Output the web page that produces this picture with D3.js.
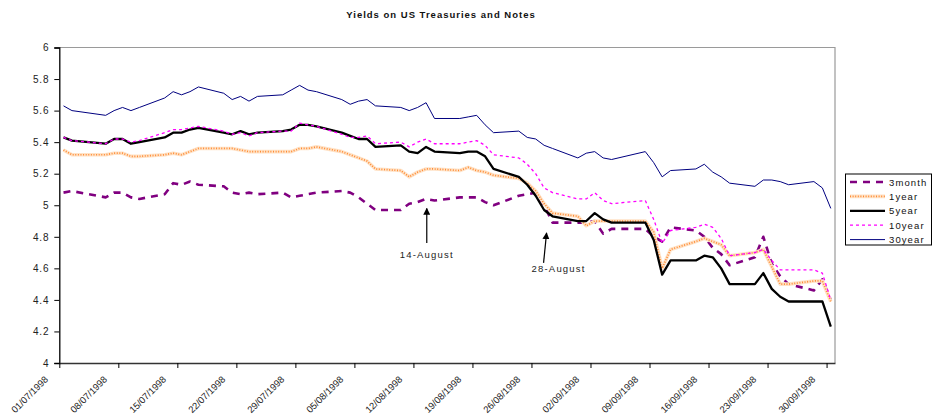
<!DOCTYPE html>
<html>
<head>
<meta charset="utf-8">
<script src="https://cdn.jsdelivr.net/npm/d3@7"></script>
<style>
  body { margin: 0; background: #fff; }
  svg { display: block; font-family: "Liberation Sans", Arial, sans-serif; }
</style>
</head>
<body>
<svg id="chart" width="934" height="416"></svg>
<script>
// trading days, jul-sep 1998
const dates = [
  "01/07/1998","02/07/1998","06/07/1998","07/07/1998","08/07/1998","09/07/1998","10/07/1998",
  "13/07/1998","14/07/1998","15/07/1998","16/07/1998","17/07/1998","20/07/1998","21/07/1998",
  "22/07/1998","23/07/1998","24/07/1998","27/07/1998","28/07/1998","29/07/1998","30/07/1998","31/07/1998",
  "03/08/1998","04/08/1998","05/08/1998","06/08/1998","07/08/1998","10/08/1998","11/08/1998",
  "12/08/1998","13/08/1998","14/08/1998","17/08/1998","18/08/1998","19/08/1998","20/08/1998",
  "21/08/1998","24/08/1998","25/08/1998","26/08/1998","27/08/1998","28/08/1998","31/08/1998",
  "01/09/1998","02/09/1998","03/09/1998","04/09/1998","08/09/1998","09/09/1998","10/09/1998",
  "11/09/1998","14/09/1998","15/09/1998","16/09/1998","17/09/1998","18/09/1998","21/09/1998",
  "22/09/1998","23/09/1998","24/09/1998","25/09/1998","28/09/1998","29/09/1998","30/09/1998"
];

const month3 = [
  5.08,5.09,5.05,5.08,5.08,5.05,5.04,5.07,5.14,5.13,5.15,5.13,5.12,5.08,5.07,5.08,5.07,5.08,5.05,5.06,5.07,5.08,
  5.09,5.08,5.05,5.01,4.97,4.97,5.01,5.02,5.04,5.03,5.05,5.05,5.05,5.02,5.00,5.06,5.07,5.08,5.00,4.89,4.89,
  4.89,4.90,4.82,4.85,4.85,4.80,4.77,4.86,4.84,4.80,4.73,4.69,4.62,4.67,4.80,4.63,4.55,4.50,4.46,4.53,4.40
];
const year1 = [
  5.35,5.32,5.32,5.33,5.33,5.31,5.31,5.32,5.33,5.32,5.34,5.36,5.36,5.36,5.35,5.34,5.34,5.34,5.34,5.36,5.36,5.37,
  5.34,5.32,5.30,5.28,5.23,5.22,5.18,5.21,5.23,5.23,5.22,5.24,5.22,5.21,5.19,5.17,5.14,5.09,5.01,4.95,4.93,
  4.87,4.90,4.90,4.90,4.90,4.83,4.60,4.72,4.77,4.79,4.77,4.75,4.68,4.70,4.72,4.61,4.50,4.50,4.52,4.52,4.39
];
const year5 = [
  5.43,5.41,5.39,5.42,5.42,5.39,5.40,5.43,5.46,5.46,5.48,5.49,5.46,5.45,5.47,5.45,5.46,5.47,5.48,5.51,5.51,5.50,
  5.46,5.44,5.42,5.42,5.37,5.38,5.34,5.33,5.37,5.34,5.33,5.34,5.34,5.31,5.23,5.18,5.13,5.06,4.97,4.93,4.90,
  4.90,4.95,4.91,4.89,4.89,4.78,4.56,4.65,4.65,4.68,4.67,4.60,4.50,4.50,4.57,4.47,4.42,4.39,4.39,4.39,4.23
];
const year10 = [
  5.43,5.41,5.39,5.42,5.42,5.40,5.41,5.46,5.48,5.48,5.49,5.50,5.47,5.45,5.46,5.44,5.46,5.47,5.47,5.52,5.51,5.50,
  5.45,5.43,5.43,5.44,5.39,5.40,5.37,5.40,5.42,5.39,5.39,5.40,5.41,5.38,5.32,5.30,5.26,5.20,5.11,5.08,5.04,
  5.04,5.08,5.03,5.01,5.03,4.91,4.76,4.84,4.86,4.88,4.86,4.79,4.68,4.70,4.72,4.65,4.59,4.59,4.59,4.57,4.40
];
const year30 = [
  5.63,5.60,5.57,5.60,5.62,5.60,5.62,5.68,5.72,5.70,5.72,5.75,5.71,5.67,5.69,5.66,5.69,5.70,5.73,5.76,5.73,5.72,
  5.67,5.64,5.66,5.67,5.63,5.62,5.60,5.62,5.65,5.55,5.55,5.56,5.57,5.51,5.46,5.47,5.43,5.42,5.38,5.36,5.30,
  5.33,5.34,5.30,5.29,5.34,5.27,5.18,5.22,5.23,5.26,5.21,5.18,5.14,5.12,5.16,5.16,5.15,5.13,5.15,5.11,4.98
];

const seriesNames = ["3month", "1year", "5year", "10year", "30year"];
const seriesValues = [month3, year1, year5, year10, year30];

const xTickLabels = ["01/07/1998","08/07/1998","15/07/1998","22/07/1998","29/07/1998","05/08/1998","12/08/1998",
  "19/08/1998","26/08/1998","02/09/1998","09/09/1998","16/09/1998","23/09/1998","30/09/1998"];
const yTickLabels = ["4","4.2","4.4","4.6","4.8","5","5.2","5.4","5.6","5.8","6"];

// arrows: label, x position (date), arrow tip / tail and text baseline values
const notes = [
  { label: "14-August", at: "1998-08-13T14:00", tip: 4.98, tail: 4.76, text: 4.665, tx: 0 },
  { label: "28-August", at: "1998-08-27T19:00", tip: 4.825, tail: 4.635, text: 4.575, dx: -3, tx: 15 }
];

const parseDate = d3.timeParse("%d/%m/%Y");

const svg = d3.select("#chart");
const plot = { left: 59.3, right: 835, top: 47.5, bottom: 363 };

const x = d3.scaleTime()
  .domain([new Date(1998, 6, 1), new Date(1998, 9, 1)])
  .range([plot.left, plot.right]);
const y = d3.scaleLinear()
  .domain([4, 6])
  .range([plot.bottom, plot.top]);

// excel puts points in the middle of the day slot
const xPoint = d => x(d3.timeHour.offset(parseDate(d), 12));

// plot area border (top + right)
svg.append("path")
  .attr("d", `M${plot.left},${plot.top}H${plot.right}V${plot.bottom}`)
  .attr("fill", "none")
  .attr("stroke", "#9a9a9a")
  .attr("stroke-width", 1.2);

// title
svg.append("text")
  .attr("x", 441)
  .attr("y", 18)
  .attr("text-anchor", "middle")
  .attr("font-size", 9.5)
  .attr("font-weight", "bold")
  .attr("letter-spacing", 1)
  .attr("fill", "#111")
  .text("Yields on US Treasuries and Notes");

// axes
const yAxis = d3.axisLeft(y)
  .tickValues(yTickLabels.map(Number))
  .tickFormat((d, i) => yTickLabels[i])
  .tickSize(5)
  .tickPadding(5);
const gy = svg.append("g")
  .attr("transform", `translate(${plot.left},0)`)
  .call(yAxis);
gy.select(".domain").attr("stroke", "#000").attr("stroke-width", 1.3);
gy.selectAll(".tick line").attr("stroke", "#000");
gy.selectAll("text")
  .attr("font-size", 10)
  .attr("letter-spacing", 0.8)
  .attr("fill", "#222");

const xAxis = d3.axisBottom(x)
  .tickValues(xTickLabels.map(parseDate))
  .tickFormat((d, i) => xTickLabels[i])
  .tickSize(5)
  .tickSizeOuter(0);
const gx = svg.append("g")
  .attr("transform", `translate(0,${plot.bottom})`)
  .call(xAxis);
gx.select(".domain").attr("stroke", "#333").attr("stroke-width", 1.3);
gx.selectAll(".tick line").attr("stroke", "#000");
gx.selectAll("text")
  .attr("font-size", 9.5)
  .attr("fill", "#222")
  .attr("text-anchor", "end")
  .attr("dy", null)
  .attr("y", null)
  .attr("transform", "translate(-11,17) rotate(-45)");

// lines
const line = d3.line()
  .x((v, i) => xPoint(dates[i]))
  .y(v => y(v));

const styles = {
  "3month": [{ stroke: "#800080", width: 2.6, dash: "7,6" }],
  "1year": [{ stroke: "#ffe2c6", width: 3.6 }, { stroke: "#ff8a33", width: 1.7, dash: "1,1.6" }],
  "5year": [{ stroke: "#000", width: 2.3 }],
  "10year": [{ stroke: "#ff00ff", width: 1.3, dash: "3,3" }],
  "30year": [{ stroke: "#000080", width: 1 }]
};

const lines = svg.append("g");
seriesNames.forEach((name, si) => {
  styles[name].forEach(s => {
    lines.append("path")
      .datum(seriesValues[si])
      .attr("d", line)
      .attr("fill", "none")
      .attr("stroke", s.stroke)
      .attr("stroke-width", s.width)
      .attr("stroke-dasharray", s.dash || null)
      .attr("stroke-linejoin", "round");
  });
});

// annotations
svg.append("defs").append("marker")
  .attr("id", "head")
  .attr("viewBox", "0 0 10 10")
  .attr("refX", 9)
  .attr("refY", 5)
  .attr("markerWidth", 7)
  .attr("markerHeight", 7)
  .attr("markerUnits", "userSpaceOnUse")
  .attr("orient", "auto")
  .append("path")
  .attr("d", "M0,0L10,5L0,10z")
  .attr("fill", "#000");

notes.forEach(n => {
  const nx = x(new Date(n.at));
  svg.append("line")
    .attr("x1", nx + (n.dx || 0))
    .attr("y1", y(n.tail))
    .attr("x2", nx)
    .attr("y2", y(n.tip))
    .attr("stroke", "#000")
    .attr("stroke-width", 1.2)
    .attr("marker-end", "url(#head)");
  svg.append("text")
    .attr("x", nx + (n.dx || 0) + n.tx)
    .attr("y", y(n.text))
    .attr("text-anchor", "middle")
    .attr("font-size", 9.5)
    .attr("letter-spacing", 1.2)
    .attr("fill", "#222")
    .text(n.label);
});

// legend
const legend = svg.append("g");
legend.append("rect")
  .attr("x", 845.5)
  .attr("y", 174)
  .attr("width", 86)
  .attr("height", 71)
  .attr("fill", "#fff")
  .attr("stroke", "#000")
  .attr("stroke-width", 1);
seriesNames.forEach((name, i) => {
  const ly = 182 + i * 14.4;
  styles[name].forEach(s => {
    legend.append("line")
      .attr("x1", 850).attr("x2", 885)
      .attr("y1", ly).attr("y2", ly)
      .attr("stroke", s.stroke)
      .attr("stroke-width", s.width)
      .attr("stroke-dasharray", s.dash || null);
  });
  legend.append("text")
    .attr("x", 889)
    .attr("y", ly + 3.5)
    .attr("font-size", 9.5)
    .attr("letter-spacing", 1.1)
    .attr("fill", "#111")
    .text(name);
});
</script>
</body>
</html>
